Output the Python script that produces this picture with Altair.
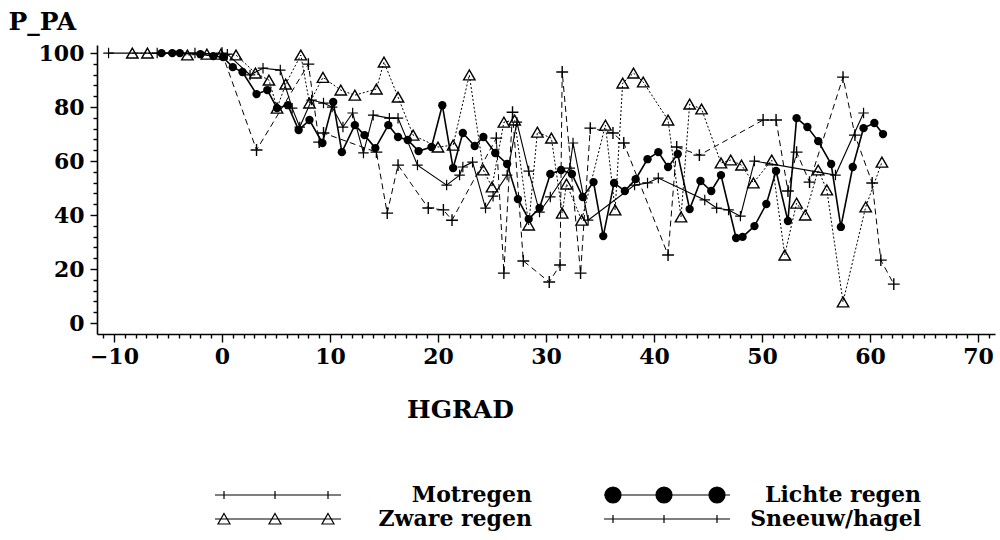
import altair as alt
import pandas as pd

# ---------------- data ----------------
series_names = ["Motregen", "Lichte regen", "Zware regen", "Sneeuw/hagel"]

motregen_x = [-10.5, -6.0, -2.5, 0.5, 2.6, 3.8, 5.4, 6.5, 7.2, 8.3, 9.4, 10.2, 11.2,
              12.1, 13.1, 14.0, 15.5, 16.3, 18.1, 20.8, 22.0, 22.3, 23.2, 24.4, 25.1,
              26.4, 27.3, 28.4, 29.4, 30.4, 32.2, 32.5, 33.9, 38.2, 39.4, 40.4, 44.7,
              45.8, 46.9, 48.0, 49.3, 56.8, 59.4]
motregen_y = [100, 100, 100, 99.6, 91.9, 94.4, 93.7, 79.6, 72.6, 82.6, 81.5, 80.0, 72.6,
              77.8, 63.0, 77.0, 75.9, 75.9, 58.5, 51.1, 54.8, 57.8, 59.6, 42.6, 47.0,
              54.8, 74.4, 56.3, 41.1, 46.7, 57.4, 66.7, 38.1, 51.1, 51.9, 53.7, 45.6,
              42.6, 41.9, 39.6, 60.0, 54.8, 77.8]

zware_x = [-8.3, -6.9, -3.2, -1.4, -0.1, 1.3, 3.1, 4.35, 5.1, 5.9, 7.3, 8.1, 9.35, 11.0,
           12.3, 14.3, 15.0, 16.3, 17.7, 20.0, 21.4, 22.9, 24.2, 25.0, 26.1, 27.1, 28.4,
           29.2, 30.5, 31.5, 31.9, 33.3, 35.5, 36.4, 37.1, 38.1, 39.0, 41.3, 42.5, 43.3,
           44.4, 46.2, 47.1, 48.1, 49.2, 50.9, 52.1, 53.2, 54.0, 55.2, 56.0, 57.5, 59.6,
           61.1]
zware_y = [100, 100, 99.3, 99.6, 99.6, 99.3, 92.6, 90.0, 79.6, 88.5, 99.3, 81.5, 91.0, 86.3,
           84.4, 86.7, 96.7, 83.7, 69.6, 65.2, 65.9, 91.9, 56.7, 50.4, 74.4, 75.2, 36.3,
           70.7, 68.5, 40.7, 51.5, 38.1, 73.3, 41.9, 88.9, 92.6, 89.3, 75.2, 39.3, 81.1,
           79.3, 59.3, 60.4, 58.5, 51.9, 60.4, 25.2, 44.4, 40.0, 56.7, 49.3, 7.8, 43.0,
           59.6]

lichte_x = [-5.6, -4.6, -3.9, -2.0, -0.8, 0.1, 1.0, 1.9, 3.2, 4.2, 5.1, 6.1, 7.1, 8.1, 9.3,
            10.3, 11.1, 12.3, 13.2, 14.2, 15.4, 16.3, 17.2, 18.2, 19.4, 20.4, 21.4, 22.3,
            23.4, 24.2, 25.3, 26.4, 27.4, 28.4, 29.4, 30.4, 31.4, 32.4, 33.4, 34.4, 35.3,
            36.3, 37.3, 38.3, 39.4, 40.4, 41.3, 42.2, 43.3, 44.3, 45.3, 46.2, 47.6, 48.2,
            49.3, 50.4, 51.3, 52.4, 53.2, 54.2, 55.2, 56.4, 57.3, 58.4, 59.4, 60.4, 61.2]
lichte_y = [100, 100, 100, 99.6, 98.9, 98.5, 94.8, 93.0, 84.8, 86.3, 79.6, 80.7, 71.5, 75.2,
            66.7, 81.9, 63.3, 73.3, 69.6, 64.8, 73.3, 68.9, 67.8, 63.7, 65.2, 80.7, 57.4,
            70.4, 65.6, 68.9, 63.0, 58.9, 45.9, 38.5, 42.6, 55.2, 56.7, 55.2, 46.7, 52.2,
            32.2, 51.9, 48.9, 53.3, 60.7, 63.3, 57.8, 62.6, 42.2, 52.6, 48.9, 54.8, 31.5,
            31.9, 35.9, 44.1, 56.3, 37.8, 75.9, 72.6, 67.4, 58.9, 35.6, 57.8, 72.2, 74.1,
            70.0]

sneeuw_x = [0.0, 3.2, 8.0, 9.0, 9.4, 14.3, 15.3, 16.3, 19.1, 20.5, 21.3, 25.4, 26.1, 26.9,
            27.9, 30.3, 31.3, 31.5, 33.2, 34.1, 36.2, 37.2, 41.3, 42.1, 44.2, 50.1, 51.3,
            52.4, 53.2, 54.4, 57.5, 58.6, 60.2, 61.0, 62.2]
sneeuw_y = [100, 64.1, 95.9, 67.0, 70.4, 63.3, 40.7, 58.5, 42.6, 41.9, 38.1, 68.5, 18.5, 78.1,
            23.0, 15.2, 21.5, 93.0, 18.5, 72.2, 70.4, 66.7, 25.2, 65.2, 62.2, 75.2, 75.2,
            48.9, 63.3, 52.2, 91.1, 69.6, 51.9, 23.3, 14.4]


def frame(name, xs, ys):
    return pd.DataFrame({"HGRAD": xs, "P_PA": ys, "serie": name})


df = pd.concat([
    frame("Motregen", motregen_x, motregen_y),
    frame("Zware regen", zware_x, zware_y),
    frame("Lichte regen", lichte_x, lichte_y),
    frame("Sneeuw/hagel", sneeuw_x, sneeuw_y),
], ignore_index=True)

FONT = "DejaVu Serif"
X_DOMAIN = [-11.57, 71.57]
Y_DOMAIN = [-4.07, 103.0]
x_ticks = list(range(-11, 72))
y_ticks = list(range(0, 101, 4))

x_axis = alt.Axis(
    values=x_ticks,
    labelExpr="datum.value % 10 === 0 ? datum.label : ''",
    tickSize={"condition": {"test": "datum.value % 10 === 0", "value": 8}, "value": 4},
    labelOverlap=False,
    labelPadding=4,
    grid=False,
    title="HGRAD",
    titleX=363, titleY=75, titleAlign="center", titleBaseline="middle",
)
y_axis = alt.Axis(
    values=y_ticks,
    labelExpr="datum.value % 20 === 0 ? datum.label : ''",
    tickSize={"condition": {"test": "datum.value % 20 === 0", "value": 7}, "value": 4},
    labelOverlap=False,
    labelPadding=6,
    grid=False,
    title="P_PA",
    titleAngle=0, titleX=-89, titleY=-24, titleAlign="left", titleBaseline="middle",
)

x_enc = alt.X("HGRAD:Q", scale=alt.Scale(domain=X_DOMAIN, nice=False, zero=False), axis=x_axis)
y_enc = alt.Y("P_PA:Q", scale=alt.Scale(domain=Y_DOMAIN, nice=False, zero=False), axis=y_axis)

PLUS = "M-1,0L1,0M0,-1L0,1"

line_styles = {
    "Motregen": dict(strokeWidth=1.1),
    "Zware regen": dict(strokeWidth=1.0, strokeDash=[2, 2]),
    "Lichte regen": dict(strokeWidth=1.6),
    "Sneeuw/hagel": dict(strokeWidth=1.0, strokeDash=[6, 4]),
}
point_styles = {
    "Motregen": dict(shape=PLUS, size=110, filled=False, strokeWidth=1.2),
    "Zware regen": dict(shape="triangle-up", size=130, filled=False, strokeWidth=1.4),
    "Lichte regen": dict(shape="circle", size=70, filled=True),
    "Sneeuw/hagel": dict(shape=PLUS, size=140, filled=False, strokeWidth=1.4),
}

layers = []
for name in ["Zware regen", "Motregen", "Sneeuw/hagel", "Lichte regen"]:
    base = alt.Chart(df).transform_filter(alt.datum.serie == name)
    layers.append(base.mark_line(color="black", **line_styles[name]).encode(x=x_enc, y=y_enc))
    layers.append(base.mark_point(color="black", opacity=1, **point_styles[name]).encode(x=x_enc, y=y_enc))


# legend symbols: a line with three markers (unit = 5 px)
def plus_row(cs):
    s = "M-1,0L24.2,0"
    for c in cs:
        s += f"M{c},-0.8L{c},0.8"
    return s


def tri_row(cs):
    s = "M-1,0L24.2,0"
    for c in cs:
        s += f"M{c},-1.1L{c + 1.2},1.0L{c - 1.2},1.0Z"
    return s


def circ_row(cs, r=1.6):
    s = "M-1,0L24.2,0"
    for c in cs:
        s += f"M{c - r},0A{r},{r} 0 1,0 {c + r},0A{r},{r} 0 1,0 {c - r},0Z"
    return s


marks_at = [0.8, 11.0, 21.6]
legend_paths = [plus_row(marks_at), circ_row(marks_at), tri_row(marks_at), plus_row(marks_at)]
legend_fills = ["white", "black", "white", "white"]
legend_strokes = ["black", "black", "black", "black"]

legend_def = alt.Legend(
    title=None, orient="none", legendX=112, legendY=439, columns=2, direction="horizontal",
    labelAlign="right", labelBaseline="middle", labelOffset=301, labelLimit=0,
    labelFont=FONT, labelFontSize=22, labelFontWeight="bold", labelColor="black",
    symbolSize=100, symbolStrokeWidth=1.2, symbolStrokeColor="black",
    columnPadding=66, rowPadding=2,
)

legend_layer = alt.Chart(df).transform_filter("false").mark_point(
    strokeWidth=1.2, opacity=1
).encode(
    x=x_enc, y=y_enc,
    shape=alt.Shape("serie:N", scale=alt.Scale(domain=series_names, range=legend_paths), legend=legend_def),
    fill=alt.Fill("serie:N", scale=alt.Scale(domain=series_names, range=legend_fills), legend=legend_def),
    stroke=alt.Stroke("serie:N", scale=alt.Scale(domain=series_names, range=legend_strokes), legend=legend_def),
)
layers.append(legend_layer)

chart = alt.layer(*layers).properties(
    width=898, height=289,
    padding={"left": 97, "top": 45, "right": 5, "bottom": 206},
    autosize=alt.AutoSizeParams(type="none"),
    background="white",
).configure_view(stroke=None).configure_axis(
    domainColor="black", domainWidth=1.6, tickColor="black", tickWidth=1.4,
    labelFont=FONT, labelFontSize=22, labelFontWeight="bold", labelColor="black",
    titleFont=FONT, titleFontSize=25, titleFontWeight="bold", titleColor="black",
)

chart.save("out.html", embed_options={"renderer": "svg", "actions": False})
